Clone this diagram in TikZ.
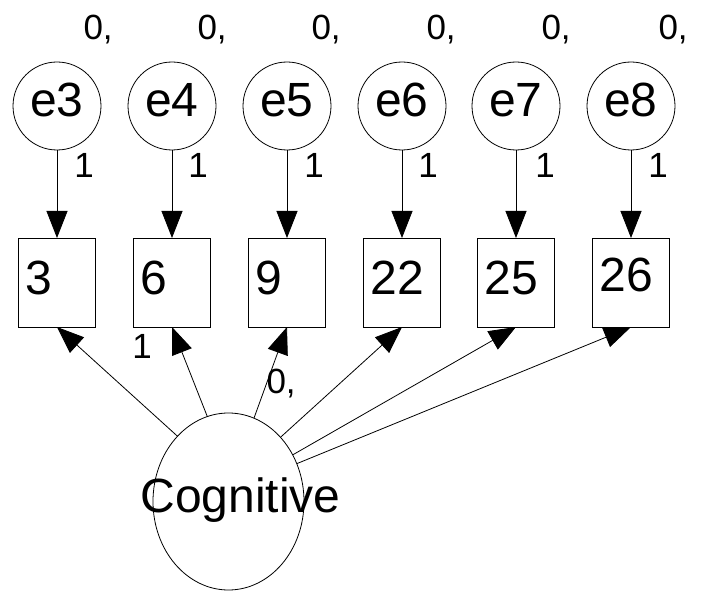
\documentclass[tikz,border=0pt]{standalone}
\usepackage{fontspec}
\setmainfont{Liberation Sans}
\usetikzlibrary{arrows.meta,shapes.geometric}
\begin{document}
\begin{tikzpicture}[x=1pt,y=-1pt,
  every node/.style={inner sep=0pt, outer sep=0pt},
  errc/.style={circle, draw, line width=0.8pt, minimum size=88pt,
    font=\fontsize{48}{48}\selectfont, text depth=12pt},
  obsbox/.style={rectangle, draw, line width=0.8pt, minimum width=77pt,
    minimum height=89pt, text width=63pt, inner xsep=7pt, align=left,
    font=\fontsize{48}{48}\selectfont, text depth=9pt},
  latent/.style={ellipse, draw, line width=0.8pt, minimum width=151pt, minimum height=177pt},
  bigtxt/.style={font=\fontsize{48}{48}\selectfont},
  smalltxt/.style={font=\fontsize{35}{35}\selectfont},
  conn/.style={line width=0.8pt, -{Triangle[length=27pt,width=21pt]}}
]
\useasboundingbox (0,0) rectangle (705,591);

% error circles
\node[errc] (e3) at (57,106) {e3};
\node[errc] (e4) at (172,106) {e4};
\node[errc] (e5) at (287,106) {e5};
\node[errc] (e6) at (402,106) {e6};
\node[errc] (e7) at (516,106) {e7};
\node[errc] (e8) at (631,106) {e8};

% observed boxes
\node[obsbox] (b3) at (57,282.5) {3};
\node[obsbox] (b6) at (172,282.5) {6};
\node[obsbox] (b9) at (287,282.5) {9};
\node[obsbox] (b22) at (402,282.5) {22};
\node[obsbox] (b25) at (516,282.5) {25};
\node[obsbox, text depth=15pt] (b26) at (631,282.5) {26};

% latent
\node[latent] (cog) at (228.5,501.5) {};
\node[bigtxt, anchor=base] (cogtext) at (240.5,512) {Cognitive};

% variance labels
\node[smalltxt, anchor=base west] (v3) at (83.5,40) {0,};
\node[smalltxt, anchor=base west] (v4) at (197.5,40) {0,};
\node[smalltxt, anchor=base west] (v5) at (311.5,40) {0,};
\node[smalltxt, anchor=base west] (v6) at (426.5,40) {0,};
\node[smalltxt, anchor=base west] (v7) at (541.5,40) {0,};
\node[smalltxt, anchor=base west] (v8) at (658.5,40) {0,};

% regression weight labels
\node[smalltxt, anchor=base] (w3) at (84,178) {1};
\node[smalltxt, anchor=base] (w4) at (198,178) {1};
\node[smalltxt, anchor=base] (w5) at (314,178) {1};
\node[smalltxt, anchor=base] (w6) at (428,178) {1};
\node[smalltxt, anchor=base] (w7) at (545,178) {1};
\node[smalltxt, anchor=base] (w8) at (658,178) {1};

\node[smalltxt, anchor=base] (l6) at (142,358) {1};
\node[smalltxt, anchor=base west] (l9) at (266.5,393) {0,};

% arrows error -> box
\draw[conn] (e3) -- (b3);
\draw[conn] (e4) -- (b6);
\draw[conn] (e5) -- (b9);
\draw[conn] (e6) -- (b22);
\draw[conn] (e7) -- (b25);
\draw[conn] (e8) -- (b26);

% arrows latent -> box
\draw[conn] (cog.128.2) -- (b3.south);
\draw[conn] (cog.104.3) -- (b6.south);
\draw[conn] (cog.73.8) -- (b9.south);
\draw[conn] (cog.51.2) -- (b22.south);
\draw[conn] (cog.36.7) -- (b25.south);
\draw[conn] (cog.29.6) -- (b26.south);
\end{tikzpicture}
\end{document}
